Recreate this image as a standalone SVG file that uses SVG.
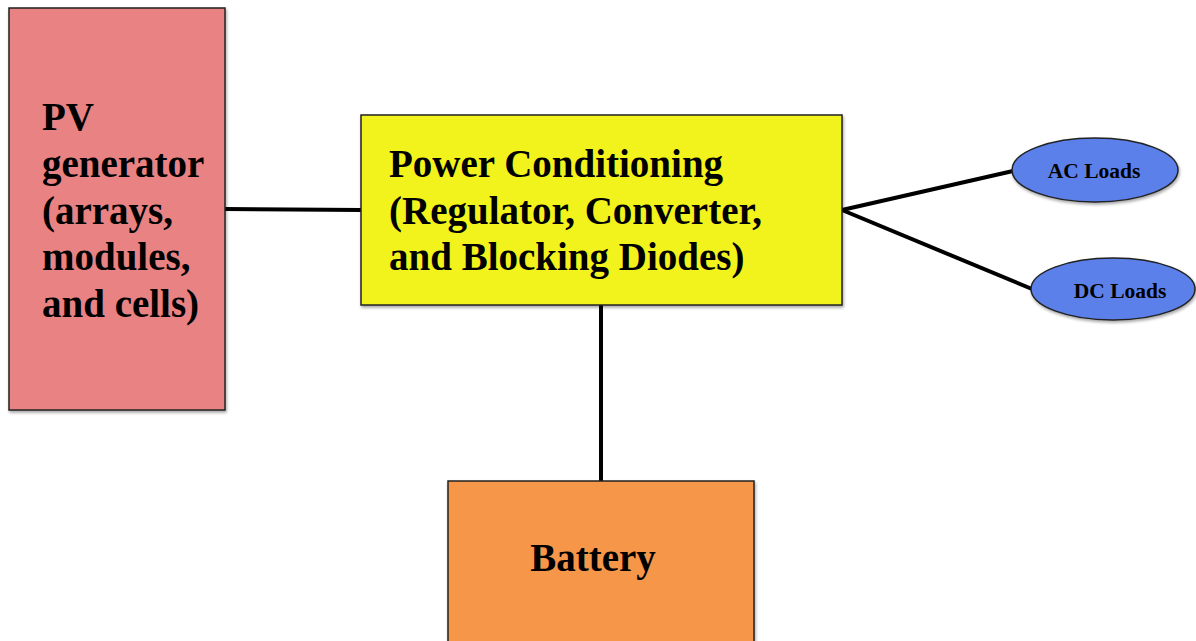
<svg xmlns="http://www.w3.org/2000/svg" width="1196" height="641" viewBox="0 0 1196 641">
<defs>
<filter id="sh" x="-5%" y="-5%" width="112%" height="112%">
<feDropShadow dx="1" dy="2" stdDeviation="1.5" flood-color="#000" flood-opacity="0.35"/>
</filter>
</defs>
<style>
.box{stroke:#222;stroke-width:1.5;filter:url(#sh)}
.t{font-family:"Liberation Serif","Times New Roman",serif;font-weight:bold;fill:#000}
.big{font-size:39px}
.sm{font-size:21.5px}
.c{stroke:#000;stroke-width:4;fill:none;stroke-linecap:butt}
</style>
<rect width="1196" height="641" fill="#fff"/>
<g id="connectors">
<line class="c" x1="225" y1="209" x2="362" y2="210"/>
<line class="c" x1="842" y1="210" x2="1013" y2="171"/>
<line class="c" x1="842" y1="210" x2="1032" y2="289"/>
<line class="c" x1="601" y1="305" x2="601" y2="482"/>
</g>
<g id="pv">
<rect class="box" x="9" y="8" width="216" height="402" fill="#e88283"/>
<text class="t big" x="42" y="130">PV</text>
<text class="t big" x="42" y="177">generator</text>
<text class="t big" x="42" y="224">(arrays,</text>
<text class="t big" x="42" y="270">modules,</text>
<text class="t big" x="42" y="317">and cells)</text>
</g>
<g id="power">
<rect class="box" x="361" y="115" width="481" height="190" fill="#f2f21e"/>
<text class="t big" x="389" y="177">Power Conditioning</text>
<text class="t big" x="389" y="224">(Regulator, Converter,</text>
<text class="t big" x="389" y="270">and Blocking Diodes)</text>
</g>
<g id="battery">
<rect class="box" x="448" y="481" width="306" height="170" fill="#f5964a"/>
<text class="t big" x="593" y="571" text-anchor="middle">Battery</text>
</g>
<g id="ac">
<ellipse class="box" cx="1095" cy="170" rx="83" ry="32" fill="#5b80ea"/>
<text class="t sm" x="1094" y="178" text-anchor="middle">AC Loads</text>
</g>
<g id="dc">
<ellipse class="box" cx="1113" cy="289" rx="82" ry="31" fill="#5b80ea"/>
<text class="t sm" x="1120" y="298" text-anchor="middle">DC Loads</text>
</g>
</svg>
